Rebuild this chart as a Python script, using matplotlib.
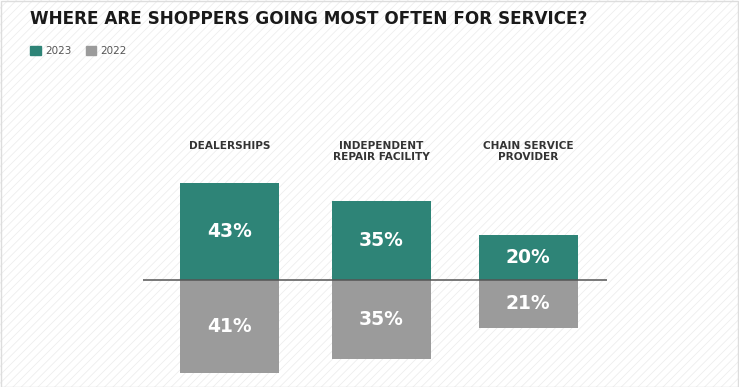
import matplotlib
matplotlib.use("Agg")
import matplotlib.pyplot as plt
from matplotlib.patches import Rectangle, Patch

# data
categories = ["DEALERSHIPS", "INDEPENDENT\nREPAIR FACILITY", "CHAIN SERVICE\nPROVIDER"]
positions = [0, 1, 1.97]
share_2023 = [43, 35, 20]
share_2022 = [41, 35, 21]

TEAL = "#2e8477"
GREY = "#9b9b9b"

plt.rcParams["hatch.linewidth"] = 0.6
fig = plt.figure(figsize=(7.39, 3.87), dpi=100)

# faint diagonal stripes in the background
bg = Rectangle((0, 0), 1, 1, transform=fig.transFigure, facecolor="white",
               edgecolor="#eeeeee", hatch="////", linewidth=0, zorder=-10)
fig.patches.append(bg)
frame = Rectangle((0.001, 0.001), 0.998, 0.996, transform=fig.transFigure,
                  fill=False, edgecolor="#dddddd", linewidth=1, zorder=-9)
fig.patches.append(frame)

# axes placed so the zero line sits where the reference has it
W, H = 739, 387
ax = fig.add_axes([143 / W, 0, 464 / W, 1])
ax.patch.set_alpha(0)
ax.set_xlim(-0.571, 2.49)
ax.set_ylim(-47.3, 123.9)
ax.axis("off")

bw = 0.653
ax.bar(positions, share_2023, width=bw, color=TEAL, zorder=2)
ax.bar(positions, [-v for v in share_2022], width=bw, color=GREY, zorder=2)
ax.axhline(0, color="#555555", linewidth=1.1, zorder=3)

for x, a, b, name in zip(positions, share_2023, share_2022, categories):
    ax.text(x, a / 2, f"{a}%", ha="center", va="center", color="white",
            fontsize=13.5, fontweight="bold", zorder=4)
    ax.text(x, -b / 2, f"{b}%", ha="center", va="center", color="white",
            fontsize=13.5, fontweight="bold", zorder=4)
    ax.text(x, 61.5, name, ha="center", va="top", color="#333333",
            fontsize=7.6, fontweight="bold", linespacing=1.1)

fig.text(30 / W, 1 - 19 / H, "WHERE ARE SHOPPERS GOING MOST OFTEN FOR SERVICE?",
         ha="left", va="center", fontsize=12.2, fontweight="bold", color="#1a1a1a")

handles = [Patch(color=TEAL, label="2023"), Patch(color=GREY, label="2022")]
fig.legend(handles=handles, loc="center left", bbox_to_anchor=(21 / W, 1 - 51 / H),
           ncol=2, frameon=False, fontsize=7.5, handlelength=1.0, handleheight=1.0,
           handletextpad=0.4, columnspacing=1.4, labelcolor="#555555")

fig.savefig("out.png", dpi=100)
